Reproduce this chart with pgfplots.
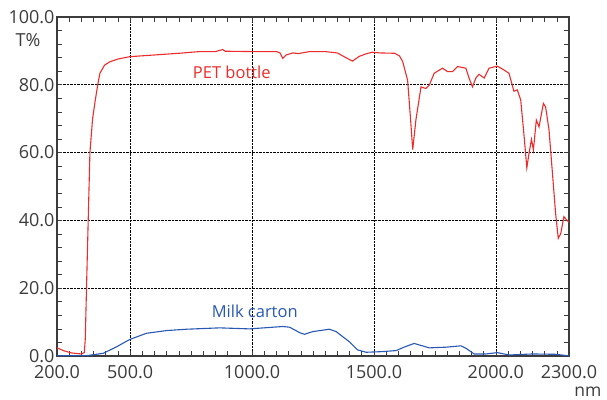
\documentclass[border=0pt]{standalone}
\usepackage{pgfplots}
\pgfplotsset{compat=1.18}
\usepackage{fontspec}
\setmainfont{Open Sans}
\definecolor{petred}{RGB}{236,44,44}
\definecolor{milkblue}{RGB}{40,88,178}
\definecolor{labgray}{RGB}{60,60,60}

\begin{document}
\begin{tikzpicture}
\path[use as bounding box] (0,0) rectangle (607pt,399pt);
\begin{axis}[
  at={(57pt,43pt)}, anchor=south west,
  scale only axis, width=512pt, height=339pt,
  xmin=200, xmax=2300, ymin=0, ymax=100,
  xtick={200,500,1000,1500,2000,2300},
  xticklabels={200.0,500.0,1000.0,1500.0,2000.0,2300.0},
  ytick={0,20,40,60,80,100},
  yticklabels={0.0,20.0,40.0,60.0,80.0,100.0},
  minor xtick={250,300,...,2250},
  minor ytick={4,8,...,96},
  tick align=inside,
  major tick length=0pt, minor tick length=5pt,
  every tick/.style={labgray, line width=0.6pt},
  grid=major,
  major grid style={black, densely dotted, line width=0.6pt},
  axis line style={labgray, line width=1.2pt},
  tick label style={font=\fontsize{18}{20}\selectfont, text=labgray},
  xticklabel style={yshift=-6pt},
  yticklabel style={xshift=1pt},
  /pgf/number format/assume math mode=true,
  clip mode=individual,
]
\addplot[petred, line width=1.1pt] coordinates {
(200,2.4) (230,1.5) (260,0.9) (300,0.6) (312,1.0) (316,5) (321,20) (328,40)
(335,60) (346,70) (356,75) (367,80) (376,83.4) (395,85.8) (417,86.8) (450,87.6)
(499,88.3) (600,88.8) (700,89.3) (785,89.8) (850,89.8) (880,90.4) (890,89.9)
(1000,89.8) (1100,89.8) (1115,89.4) (1126,87.8) (1140,88.8) (1167,89.4)
(1190,89.2) (1236,89.8) (1300,89.8) (1350,89.4) (1385,88.0) (1412,87.0)
(1440,88.4) (1470,89.2) (1494,89.6) (1524,89.4) (1585,89.3) (1605,88.5)
(1618,86.8) (1630,83.5) (1638,81.4) (1650,70) (1659,60.9) (1672,69.6)
(1693,79.4) (1713,78.9) (1727,79.9) (1747,83.4) (1781,84.9) (1802,83.9)
(1822,83.9) (1843,85.4) (1877,84.9) (1890,82.0) (1904,79.4) (1918,82.0)
(1931,83.1) (1952,82.0) (1972,84.9) (2006,85.5) (2033,84.4) (2054,83.4)
(2074,78.1) (2088,78.5) (2102,75.5) (2116,64.7) (2127,55.5) (2136,59.8)
(2146,63.9) (2154,60.8) (2166,69.6) (2177,67.6) (2195,74.5) (2204,73.5)
(2218,66.7) (2231,54.9) (2245,42.1) (2256,34.7) (2266,36.1) (2279,41.1)
(2297,39.6) (2300,39.5)
};
\addplot[milkblue, line width=1.1pt] coordinates {
(200,0.1) (260,0.1) (322,0.1) (390,0.8) (444,2.7) (499,4.9) (567,6.7)
(649,7.5) (731,7.9) (867,8.3) (990,8.0) (1126,8.7) (1154,8.5) (1195,6.9)
(1215,6.4) (1249,7.2) (1317,7.9) (1345,7.2) (1372,5.7) (1399,4.2) (1433,1.8)
(1468,1.1) (1536,1.3) (1591,1.6) (1630,2.8) (1665,3.7) (1727,2.4) (1795,2.6)
(1857,3.0) (1877,2.3) (1911,0.6) (1959,0.6) (2006,1.0) (2054,0.3) (2150,0.6)
(2245,0.5) (2293,0.1) (2300,0.1)
};
\node[petred, font=\fontsize{16.5}{18}\selectfont] at (axis cs:917,83.8) {PET bottle};
\node[milkblue, font=\fontsize{16.5}{18}\selectfont] at (axis cs:1011,13.3) {Milk carton};
\node[labgray, font=\fontsize{18}{20}\selectfont] at ([xshift=-29pt,yshift=-23pt]rel axis cs:0,1) {T\%};
\node[labgray, font=\fontsize{17.5}{19}\selectfont, inner sep=0pt, anchor=base] at ([xshift=19pt,yshift=-40pt]rel axis cs:1,0) {nm};
\end{axis}
\end{tikzpicture}
\end{document}
